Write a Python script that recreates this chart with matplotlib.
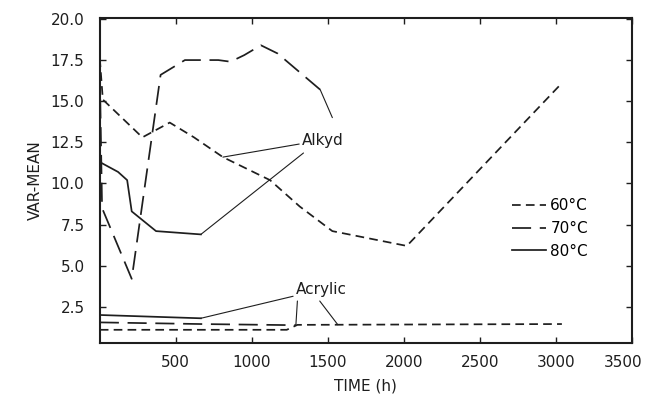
import numpy as np
import matplotlib.pyplot as plt
import matplotlib.transforms as mtransforms

# Alkyd coatings, VAR-MEAN vs exposure time
alk60_t = [0, 20, 280, 460, 620, 810, 1120, 1315, 1530, 2020, 3040]
alk60_v = [17.6, 15.1, 12.8, 13.7, 12.8, 11.6, 10.2, 8.6, 7.1, 6.2, 16.1]
alk70_t = [0, 15, 210, 400, 560, 780, 860, 950, 1060, 1170, 1450]
alk70_v = [16.8, 8.5, 4.2, 16.6, 17.5, 17.5, 17.4, 17.8, 18.4, 17.9, 15.7]
alk80_t = [0, 120, 180, 210, 370, 665]
alk80_v = [11.3, 10.7, 10.2, 8.3, 7.1, 6.9]

# Acrylic coatings
acr60_t = [0, 1230, 1300, 3040]
acr60_v = [1.1, 1.1, 1.4, 1.45]
acr70_t = [0, 665, 1290]
acr70_v = [1.55, 1.45, 1.38]
acr80_t = [0, 665]
acr80_v = [2.0, 1.8]

temps = ['60°C', '70°C', '80°C']
xticks = [500, 1000, 1500, 2000, 2500, 3000, 3500]
yticks = [2.5, 5.0, 7.5, 10.0, 12.5, 15.0, 17.5, 20.0]

ink = '#1e1e1e'
short = (0, (5, 3))
long_ = (0, (11, 5))
lw = 1.25

plt.rcParams['font.family'] = ['DejaVu Sans']
fig = plt.figure(figsize=(6.48, 4.03), dpi=100)
ax = fig.add_axes([0.154, 0.149, 0.821, 0.806])

ax.plot(alk60_t, alk60_v, color=ink, lw=lw, linestyle=short, label=temps[0])
ax.plot(alk70_t, alk70_v, color=ink, lw=lw, linestyle=long_, label=temps[1])
ax.plot(alk80_t, alk80_v, color=ink, lw=lw, linestyle='-', label=temps[2])
ax.plot(acr60_t, acr60_v, color=ink, lw=lw, linestyle=short)
ax.plot(acr70_t, acr70_v, color=ink, lw=lw, linestyle=long_)
ax.plot(acr80_t, acr80_v, color=ink, lw=lw, linestyle='-')

# pointer lines from the labels
pp = dict(arrowstyle='-', color=ink, lw=0.8, shrinkA=0, shrinkB=0)
ax.annotate('Alkyd', xy=(810, np.interp(810, alk60_t, alk60_v)), xytext=(1330, 12.64),
            va='center', ha='left', fontsize=11, color=ink, arrowprops=pp)
ax.annotate('', xy=(alk80_t[-1], alk80_v[-1]), xytext=(1340, 11.85), arrowprops=pp)
ax.annotate('', xy=(alk70_t[-1], alk70_v[-1]), xytext=(1530, 14.0), arrowprops=pp)

ax.annotate('Acrylic', xy=(acr80_t[-1], acr80_v[-1]), xytext=(1290, 3.55),
            va='center', ha='left', fontsize=11, color=ink, arrowprops=pp)
ax.annotate('', xy=(acr70_t[-1], acr70_v[-1]), xytext=(1300, 2.85), arrowprops=pp)
ax.annotate('', xy=(1566, np.interp(1566, acr60_t, acr60_v)), xytext=(1447, 2.85), arrowprops=pp)

ax.set_xlim(0, 3500)
ax.set_ylim(0.3, 20.05)
ax.set_xticks(xticks)
ax.set_yticks(yticks)
ax.set_yticklabels([f'{v:.1f}' for v in yticks])
ax.tick_params(direction='in', length=4, width=1.0, top=True, right=True,
               labelsize=11, colors=ink)
ax.tick_params(axis='y', pad=11)
ax.tick_params(axis='x', pad=9)
for s in ax.spines.values():
    s.set_linewidth(1.5)
    s.set_color(ink)

# last x label sits squeezed against the right edge
last = ax.get_xticklabels()[-1]
last.set_ha('right')
last.set_transform(last.get_transform() + mtransforms.ScaledTranslation(8 / 72, 0, fig.dpi_scale_trans))

ax.set_xlabel('TIME (h)', fontsize=11, color=ink, labelpad=6)
ax.set_ylabel('VAR-MEAN', fontsize=11, color=ink, labelpad=6)

ax.legend(loc='upper left', bbox_to_anchor=(0.775, 0.445), frameon=False,
          fontsize=11, handlelength=2.2, handletextpad=0.3, labelspacing=0.5,
          borderpad=0, borderaxespad=0)

fig.savefig('out.png', dpi=100, facecolor='white')
